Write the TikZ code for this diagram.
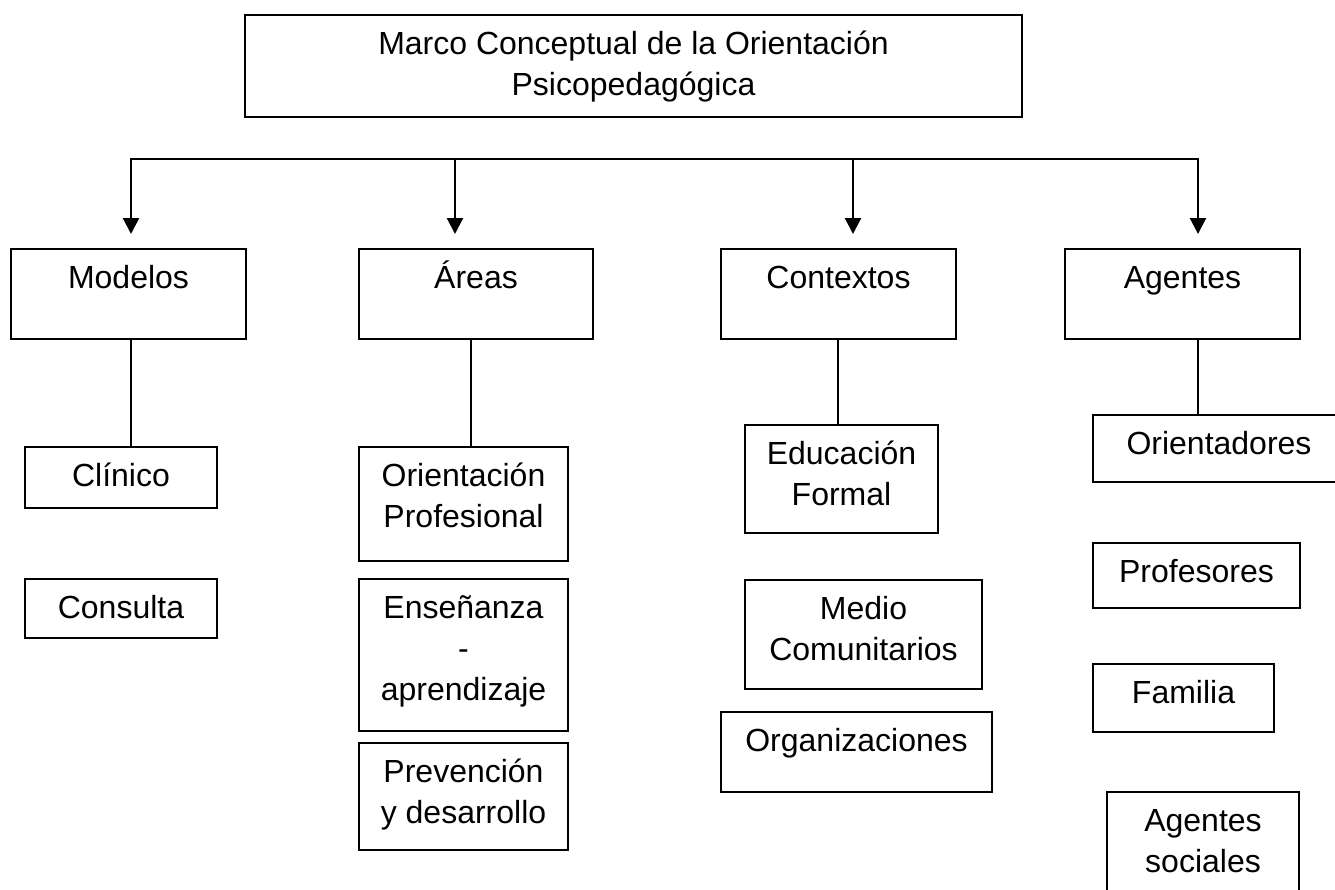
\documentclass[tikz,border=0pt]{standalone}
\usepackage{fontspec}
\setmainfont{Liberation Sans}
\usetikzlibrary{arrows.meta,calc}
\newcommand{\ml}[1]{\begin{tabular}[t]{@{}c@{}}#1\end{tabular}}
\newcommand{\bx}[5]{\node[boxst, minimum width={(#4-#2)*1bp}, minimum height={(#5-#3)*1bp}] (#1) at ({(#2+#4)/2},{(#3+#5)/2}) {};}
\newcommand{\tx}[2]{\node[lbl] (#1-t) at ($(#1.north)+(0,40)$) {\ml{#2}};}
\begin{document}
\begin{tikzpicture}[x=1bp, y=-1bp,
  font=\fontsize{32bp}{41bp}\selectfont,
  boxst/.style={draw=black, line width=1.6bp, inner sep=0pt, fill=white},
  lbl/.style={anchor=base, inner sep=0pt},
  conn/.style={draw=black, line width=1.7bp},
  bus/.style={draw=black, line width=2.2bp},
  tip/.style={-{Triangle[length=16bp,width=16bp]}}
]
\useasboundingbox (0,0) rectangle (1335,889);
\clip (0,0) rectangle (1335,889);
\fill[white] (0,0) rectangle (1335,889);

% boxes
\bx{top}{245}{15}{1022}{117}
\bx{modelos}{11}{249}{246}{339}
\bx{areas}{359}{249}{593}{339}
\bx{contextos}{721}{249}{956}{339}
\bx{agentes}{1065}{249}{1300}{339}
\bx{clinico}{25}{447}{217}{508}
\bx{consulta}{25}{579}{217}{638}
\bx{orprof}{359}{447}{568}{561}
\bx{ensen}{359}{579}{568}{731}
\bx{prev}{359}{743}{568}{850}
\bx{educ}{745}{425}{938}{533}
\bx{medio}{745}{580}{982}{689}
\bx{organ}{721}{712}{992}{792}
\bx{orient}{1093}{415}{1345}{482}
\bx{prof}{1093}{543}{1300}{608}
\bx{fam}{1093}{664}{1274}{732}
\bx{agsoc}{1107}{792}{1299}{925}

% texts
\tx{top}{Marco Conceptual de la Orientación\\Psicopedagógica}
\tx{modelos}{Modelos}
\tx{areas}{Áreas}
\tx{contextos}{Contextos}
\tx{agentes}{Agentes}
\tx{clinico}{Clínico}
\tx{consulta}{Consulta}
\tx{orprof}{Orientación\\Profesional}
\tx{ensen}{Enseñanza\\-\\aprendizaje}
\tx{prev}{Prevención\\y desarrollo}
\tx{educ}{Educación\\Formal}
\tx{medio}{Medio\\Comunitarios}
\tx{organ}{Organizaciones}
\tx{orient}{Orientadores}
\tx{prof}{Profesores}
\tx{fam}{Familia}
\tx{agsoc}{Agentes\\sociales}

% bus and arrows
\coordinate (b1) at (131,159);
\coordinate (b2) at (455,159);
\coordinate (b3) at (853,159);
\coordinate (b4) at (1198,159);
\coordinate (t1) at (131,234);
\coordinate (t2) at (455,234);
\coordinate (t3) at (853,234);
\coordinate (t4) at (1198,234);
\draw[bus, {Triangle[length=16bp,width=16bp]}-{Triangle[length=16bp,width=16bp]}] (t1) -- (b1) -- (b4) -- (t4);
\draw[bus, tip] (b2) -- (t2);
\draw[bus, tip] (b3) -- (t3);

% child connectors
\coordinate (c1) at (131,0);
\coordinate (c2) at (471,0);
\coordinate (c3) at (838,0);
\coordinate (c4) at (1198,0);
\draw[conn] (modelos.south -| c1) -- (clinico.north -| c1);
\draw[conn] (areas.south -| c2) -- (orprof.north -| c2);
\draw[conn] (contextos.south -| c3) -- (educ.north -| c3);
\draw[conn] (agentes.south -| c4) -- (orient.north -| c4);
\end{tikzpicture}
\end{document}
